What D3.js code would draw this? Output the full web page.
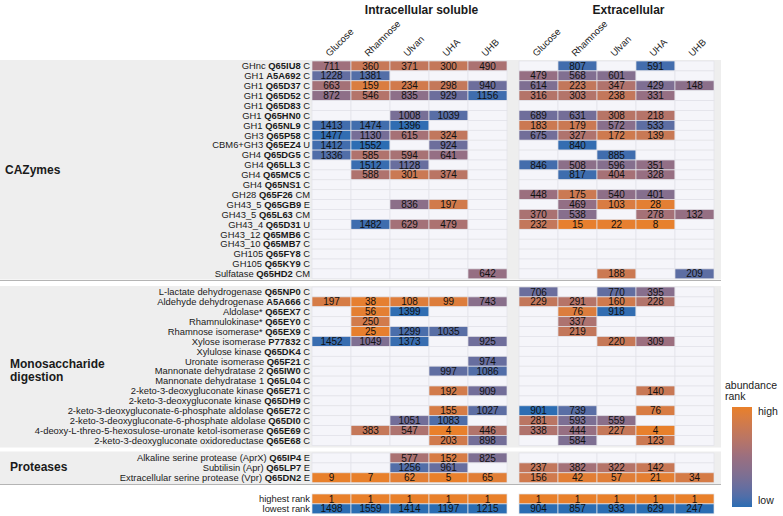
<!DOCTYPE html>
<html><head><meta charset="utf-8">
<script src="https://cdn.jsdelivr.net/npm/d3@7"></script>
<style>body{margin:0;background:#fff}svg{display:block;font-family:"Liberation Sans",Arial,sans-serif}</style>
</head><body><svg id="c" width="783" height="516"></svg>
<script>
const conditions = ["Glucose","Rhamnose","Ulvan","UHA","UHB"];
const fractions = ["Intracellular soluble","Extracellular"];

// CAZymes: [prefix, id, suffix]
const cazyLabels = [
 ["GHnc","Q65IU8","C"],["GH1","A5A692","C"],["GH1","Q65D37","C"],["GH1","Q65D52","C"],
 ["GH1","Q65D83","C"],["GH1","Q65HN0","C"],["GH1","Q65NL9","C"],["GH3","Q65P58","C"],
 ["CBM6+GH3","Q65EZ4","U"],["GH4","Q65DG5","C"],["GH4","Q65LL3","C"],["GH4","Q65MC5","C"],
 ["GH4","Q65NS1","C"],["GH28","Q65F26","CM"],["GH43_5","Q65GB9","E"],["GH43_5","Q65L63","CM"],
 ["GH43_4","Q65D31","U"],["GH43_12","Q65MB6","C"],["GH43_10","Q65MB7","C"],["GH105","Q65FY8","C"],
 ["GH105","Q65KY9","C"],["Sulfatase","Q65HD2","CM"]];
const cazyIntra = [
 [711,360,371,300,490],[1228,1381,null,null,null],[663,159,234,298,940],[872,546,835,929,1156],
 [null,null,null,null,null],[null,null,1008,1039,null],[1413,1474,1396,null,null],[1477,1130,615,324,null],
 [1412,1552,null,924,null],[1336,585,594,641,null],[null,1512,1128,null,null],[null,588,301,374,null],
 [null,null,null,null,null],[null,null,null,null,null],[null,null,836,197,null],[null,null,null,null,null],
 [null,1482,629,479,null],[null,null,null,null,null],[null,null,null,null,null],[null,null,null,null,null],
 [null,null,null,null,null],[null,null,null,null,642]];
const cazyExtra = [
 [null,807,null,591,null],[479,568,601,null,null],[614,223,347,429,148],[316,303,238,331,null],
 [null,null,null,null,null],[689,631,308,218,null],[183,179,572,533,null],[675,327,172,139,null],
 [null,840,null,null,null],[null,null,885,null,null],[846,508,596,351,null],[null,817,404,328,null],
 [null,null,null,null,null],[448,175,540,401,null],[null,469,103,28,null],[370,538,null,278,132],
 [232,15,22,8,null],[null,null,null,null,null],[null,null,null,null,null],[null,null,null,null,null],
 [null,null,null,null,null],[null,null,188,null,209]];

const monoLabels = [
 ["L-lactate dehydrogenase","Q65NP0","C"],["Aldehyde dehydrogenase","A5A666","C"],
 ["Aldolase*","Q65EX7","C"],["Rhamnulokinase*","Q65EY0","C"],["Rhamnose isomerase*","Q65EX9","C"],
 ["Xylose isomerase","P77832","C"],["Xylulose kinase","Q65DK4","C"],["Uronate isomerase","Q65F21","C"],
 ["Mannonate dehydratase 2","Q65IW0","C"],["Mannonate dehydratase 1","Q65L04","C"],
 ["2-keto-3-deoxygluconate kinase","Q65E71","C"],["2-keto-3-deoxygluconate kinase","Q65DH9","C"],
 ["2-keto-3-deoxygluconate-6-phosphate aldolase","Q65E72","C"],["2-keto-3-deoxygluconate-6-phosphate aldolase","Q65DI0","C"],
 ["4-deoxy-L-threo-5-hexosulose-uronate ketol-isomerase","Q65E69","C"],["2-keto-3-deoxygluconate oxidoreductase","Q65E68","C"]];
const monoIntra = [
 [null,null,null,null,null],[197,38,108,99,743],[null,56,1399,null,null],[null,250,null,null,null],
 [null,25,1299,1035,null],[1452,1049,1373,null,925],[null,null,null,null,null],[null,null,null,null,974],
 [null,null,null,997,1086],[null,null,null,null,null],[null,null,null,192,909],[null,null,null,null,null],
 [null,null,null,155,1027],[null,null,1051,1083,null],[null,383,547,4,446],[null,null,null,203,898]];
const monoExtra = [
 [706,null,770,395,null],[229,291,160,228,null],[null,76,918,null,null],[null,337,null,null,null],
 [null,219,null,null,null],[null,null,220,309,null],[null,null,null,null,null],[null,null,null,null,null],
 [null,null,null,null,null],[null,null,null,null,null],[null,null,null,140,null],[null,null,null,null,null],
 [901,739,null,76,null],[281,593,559,null,null],[338,444,227,4,null],[null,584,null,123,null]];

const protLabels = [
 ["Alkaline serine protease (AprX)","Q65IP4","E"],["Subtilisin (Apr)","Q65LP7","E"],
 ["Extracellular serine protease (Vpr)","Q65DN2","E"]];
const protIntra = [[null,null,577,152,825],[null,null,1256,961,null],[9,7,62,5,65]];
const protExtra = [[null,null,null,null,null],[237,382,322,142,null],[156,42,57,21,34]];

const rankLabels = ["highest rank","lowest rank"];
const highestIntra = [1,1,1,1,1];
const highestExtra = [1,1,1,1,1];
const lowestIntra = [1498,1559,1414,1197,1215];
const lowestExtra = [904,857,933,629,247];

const groupNames = [["CAZymes"],["Monosaccharide","digestion"],["Proteases"]];
const legendTitle = ["abundance","rank"];
const legendLabels = ["high","low"];

// ---------- drawing ----------
const svg = d3.select("#c");
const ROW = 9.9;
const xIntra = d3.scaleBand().domain(conditions).range([312,507]);
const xExtra = d3.scaleBand().domain(conditions).range([519,714]);
const xs = [xIntra, xExtra];
const lowest = [lowestIntra, lowestExtra];
const color = d3.piecewise(d3.interpolateLab, ["#e9802a","#9a6f80","#2a6db3"]);
function fill(v, panel, ci){
  if (v == null) return "#f5f5fa";
  const t = d3.scaleLinear().domain([1, lowest[panel][ci]]).range([0,1]).clamp(true)(v);
  return color(t);
}

const groups = [
 {labels:cazyLabels, intra:cazyIntra, extra:cazyExtra, y0:61, bg:[60,279.5], line:280.5},
 {labels:monoLabels, intra:monoIntra, extra:monoExtra, y0:287, bg:[286,447.5], line:null},
 {labels:protLabels, intra:protIntra, extra:protExtra, y0:453, bg:[451.5,484], line:484.5}
];

groups.forEach(g=>{
  svg.append("rect").attr("x",0).attr("y",g.bg[0]).attr("width",721).attr("height",g.bg[1]-g.bg[0]).attr("fill","#eeeeee");
  if (g.line) svg.append("line").attr("x1",0).attr("x2",721).attr("y1",g.line).attr("y2",g.line).attr("stroke","#b4b4b4").attr("stroke-width",1);
});

function drawRows(labelFn, n, y0, dataSets){
  const y = d3.scaleBand().domain(d3.range(n)).range([y0, y0 + n*ROW]);
  dataSets.forEach((data, p)=>{
    const x = xs[p];
    const gg = svg.append("g");
    data.forEach((row, ri)=>{
      row.forEach((v, ci)=>{
        gg.append("rect").attr("x",x(conditions[ci])).attr("y",y(ri))
          .attr("width",x.bandwidth()).attr("height",y.bandwidth())
          .attr("fill",fill(v,p,ci)).attr("stroke","#e2e2e8").attr("stroke-width",0.7);
        if (v != null) gg.append("text").attr("x",x(conditions[ci])+x.bandwidth()/2)
          .attr("y",y(ri)+y.bandwidth()/2+3.6).attr("text-anchor","middle")
          .attr("font-size",10).attr("fill","#111").text(v);
      });
    });
  });
  d3.range(n).forEach(ri=>{
    const t = svg.append("text").attr("x",310).attr("y",y(ri)+y.bandwidth()/2+3.3)
      .attr("text-anchor","end").attr("font-size",9.4).attr("fill","#1a1a1a");
    labelFn(t, ri);
  });
}

groups.forEach(g=>{
  drawRows((t,ri)=>{
    const l = g.labels[ri];
    t.append("tspan").text(l[0]+" ");
    t.append("tspan").attr("font-weight","bold").text(l[1]);
    t.append("tspan").text(" "+l[2]);
  }, g.labels.length, g.y0, [g.intra, g.extra]);
});

drawRows((t,ri)=>t.text(rankLabels[ri]), 2, 494, [[highestIntra, lowestIntra],[highestExtra, lowestExtra]]);

// group labels
svg.append("text").attr("x",5).attr("y",174).attr("font-size",12).attr("font-weight","bold").attr("fill","#1a1a1a").text(groupNames[0][0]);
const mg = svg.append("text").attr("x",10).attr("y",368).attr("font-size",12).attr("font-weight","bold").attr("fill","#1a1a1a");
mg.append("tspan").attr("x",10).text(groupNames[1][0]);
mg.append("tspan").attr("x",10).attr("dy",13).text(groupNames[1][1]);
svg.append("text").attr("x",10).attr("y",471).attr("font-size",12).attr("font-weight","bold").attr("fill","#1a1a1a").text(groupNames[2][0]);

// panel titles and column headers
fractions.forEach((f,p)=>{
  const x = xs[p];
  const [a,b] = x.range();
  svg.append("text").attr("x",(a+b)/2+12).attr("y",14).attr("text-anchor","middle")
    .attr("font-size",12).attr("font-weight","bold").attr("fill","#1a1a1a").text(f);
  conditions.forEach(c=>{
    const cx = x(c)+x.bandwidth()/2 - 2, cy = 57;
    svg.append("text").attr("transform",`translate(${cx},${cy}) rotate(-45)`)
      .attr("font-size",9.5).attr("fill","#1a1a1a").text(c);
  });
});

// legend
const defs = svg.append("defs");
const grad = defs.append("linearGradient").attr("id","lg").attr("x1",0).attr("x2",0).attr("y1",0).attr("y2",1);
d3.range(0,1.0001,0.1).forEach(t=>grad.append("stop").attr("offset",t).attr("stop-color",color(t)));
svg.append("rect").attr("x",732).attr("y",407).attr("width",20).attr("height",100).attr("fill","url(#lg)");
svg.append("text").attr("x",725).attr("y",389).attr("font-size",10.5).attr("fill","#1a1a1a").text(legendTitle[0]);
svg.append("text").attr("x",725).attr("y",399.5).attr("font-size",10.5).attr("fill","#1a1a1a").text(legendTitle[1]);
svg.append("text").attr("x",758).attr("y",415).attr("font-size",10.5).attr("fill","#1a1a1a").text(legendLabels[0]);
svg.append("text").attr("x",758).attr("y",504).attr("font-size",10.5).attr("fill","#1a1a1a").text(legendLabels[1]);
</script></body></html>
